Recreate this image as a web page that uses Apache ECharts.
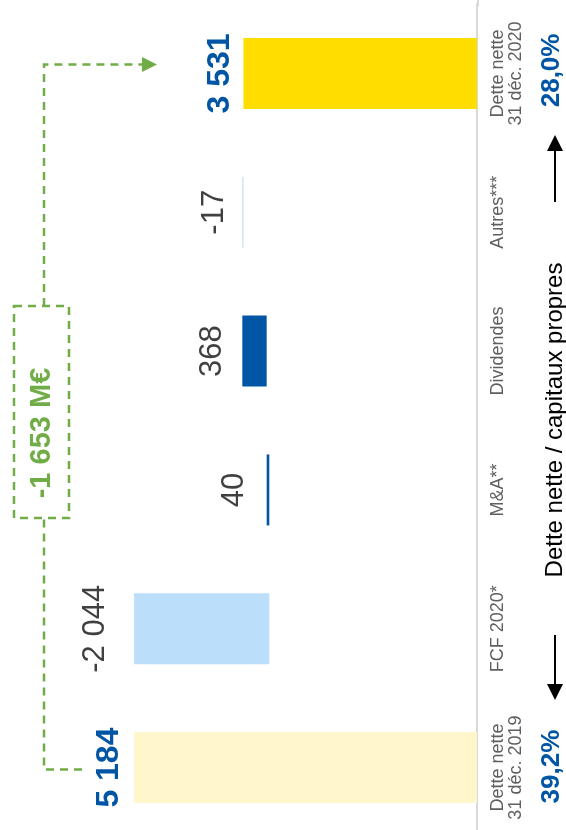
<!DOCTYPE html>
<html>
<head>
<meta charset="utf-8">
<script src="https://cdn.jsdelivr.net/npm/echarts@6/dist/echarts.min.js"></script>
<style>
  html, body { margin: 0; padding: 0; background: #ffffff; overflow: hidden; }
  #chart { width: 566px; height: 840px; }
</style>
</head>
<body>
<div id="chart"></div>
<script>
// Net debt bridge (M€), drawn as a waterfall turned on its side
const categories = ['Dette nette\n31 déc. 2019', 'FCF 2020*', 'M&A**', 'Dividendes', 'Autres***', 'Dette nette\n31 déc. 2020'];
const openingDebt = 5184;
const movements = [-2044, 40, 368, -17];
const closingDebt = 3531;
const gearingStart = '39,2%';
const gearingEnd = '28,0%';
const gearingTitle = 'Dette nette / capitaux propres';

const FONT = "'Liberation Sans', Arial, Helvetica, sans-serif";
const BLUE = '#0055A4';
const GREEN = '#70AD47';
const barColors = ['#FFF6CC', '#BBDEFB', '#0055A4', '#0055A4', '#C6D9F1', '#FFDD00'];
const labelGap = [9, 23, 17, 14, 12, 7];

// floating bases and visible heights of the waterfall
const bases = [0];
const heights = [openingDebt];
const signedValues = [openingDebt];
let level = openingDebt;
movements.forEach(m => {
  const next = level + m;
  bases.push(Math.min(level, next));
  heights.push(Math.abs(m));
  signedValues.push(m);
  level = next;
});
bases.push(0);
heights.push(closingDebt);
signedValues.push(closingDebt);

function fmt(v) {
  const s = Math.abs(v).toString().replace(/\B(?=(\d{3})+(?!\d))/g, ' ');
  return (v < 0 ? '-' : '') + s;
}

const lastIdx = categories.length - 1;
const barData = heights.map((h, i) => {
  const isTotal = i === 0 || i === lastIdx;
  return {
    value: h,
    itemStyle: { color: barColors[i] },
    label: {
      show: true,
      position: 'left',
      distance: labelGap[i],
      rotate: 90,
      align: 'center',
      verticalAlign: 'bottom',
      fontFamily: FONT,
      fontSize: isTotal ? 32 : 31,
      lineHeight: isTotal ? 32 : 31,
      fontWeight: isTotal ? 'bold' : 'normal',
      color: isTotal ? BLUE : '#404040',
      formatter: () => fmt(signedValues[i])
    }
  };
});

const chart = echarts.init(document.getElementById('chart'), null, { renderer: 'canvas' });
chart.setOption({
  animation: false,
  backgroundColor: '#ffffff',
  grid: { left: 14, right: 89, top: 4, height: 833, containLabel: false },
  xAxis: {
    type: 'value', inverse: true, min: 0, max: 7000,
    show: false
  },
  yAxis: {
    type: 'category',
    data: categories,
    position: 'right',
    axisLine: { show: true, lineStyle: { color: '#D9D9D9', width: 2 } },
    axisTick: { show: false },
    splitLine: { show: false },
    axisLabel: {
      rotate: 90,
      margin: 12,
      align: 'center',
      verticalAlign: 'top',
      fontFamily: FONT,
      fontSize: 18,
      lineHeight: 18,
      color: '#5F5F5F'
    }
  },
  series: [
    {
      type: 'bar', stack: 'bridge', data: bases, barWidth: 71,
      itemStyle: { color: 'transparent' }, silent: true
    },
    {
      type: 'bar', stack: 'bridge', data: barData, barWidth: 71
    }
  ]
});

// annotations: total change connector and gearing ratio
const yStart = chart.convertToPixel({ yAxisIndex: 0 }, 0);
const yEnd = chart.convertToPixel({ yAxisIndex: 0 }, lastIdx);
const yLow = yStart + 2;
const yHigh = yEnd - 9;
const dashed = { stroke: GREEN, lineWidth: 2.5, lineDash: [8, 6], fill: null };
const netChange = closingDebt - openingDebt;

chart.setOption({
  graphic: [
    { type: 'line', shape: { x1: 478, y1: 0, x2: 478, y2: 6 }, style: { stroke: '#D9D9D9', lineWidth: 2 } },
    { type: 'polyline', shape: { points: [[82, yLow], [44, yLow], [44, 518]] }, style: dashed },
    { type: 'polyline', shape: { points: [[44, 306], [44, yHigh], [143, yHigh]] }, style: dashed },
    { type: 'polygon', shape: { points: [[142, yHigh - 7.5], [157, yHigh], [142, yHigh + 7.5]] }, style: { fill: GREEN } },
    { type: 'rect', shape: { x: 14, y: 306, width: 55, height: 212 }, style: dashed },
    {
      type: 'text', x: 42, y: 433, rotation: Math.PI / 2,
      style: { text: fmt(netChange) + ' M€', fontFamily: FONT, fontSize: 29, fontWeight: 'bold', fill: GREEN, align: 'center', verticalAlign: 'middle' }
    },
    {
      type: 'text', x: 552, y: yStart - 1, rotation: Math.PI / 2,
      style: { text: gearingStart, fontFamily: FONT, fontSize: 26, fontWeight: 'bold', fill: BLUE, align: 'center', verticalAlign: 'middle' }
    },
    {
      type: 'text', x: 552, y: yEnd - 3, rotation: Math.PI / 2,
      style: { text: gearingEnd, fontFamily: FONT, fontSize: 26, fontWeight: 'bold', fill: BLUE, align: 'center', verticalAlign: 'middle' }
    },
    {
      type: 'text', x: 555, y: 420, rotation: Math.PI / 2,
      style: { text: gearingTitle, fontFamily: FONT, fontSize: 24, fill: '#000000', align: 'center', verticalAlign: 'middle' }
    },
    { type: 'line', shape: { x1: 555, y1: 635, x2: 555, y2: 686 }, style: { stroke: '#000000', lineWidth: 2 } },
    { type: 'polygon', shape: { points: [[547, 684], [563, 684], [555, 700]] }, style: { fill: '#000000' } },
    { type: 'line', shape: { x1: 555, y1: 202, x2: 555, y2: 149 }, style: { stroke: '#000000', lineWidth: 2 } },
    { type: 'polygon', shape: { points: [[547, 151], [563, 151], [555, 135]] }, style: { fill: '#000000' } }
  ]
});
</script>
</body>
</html>
